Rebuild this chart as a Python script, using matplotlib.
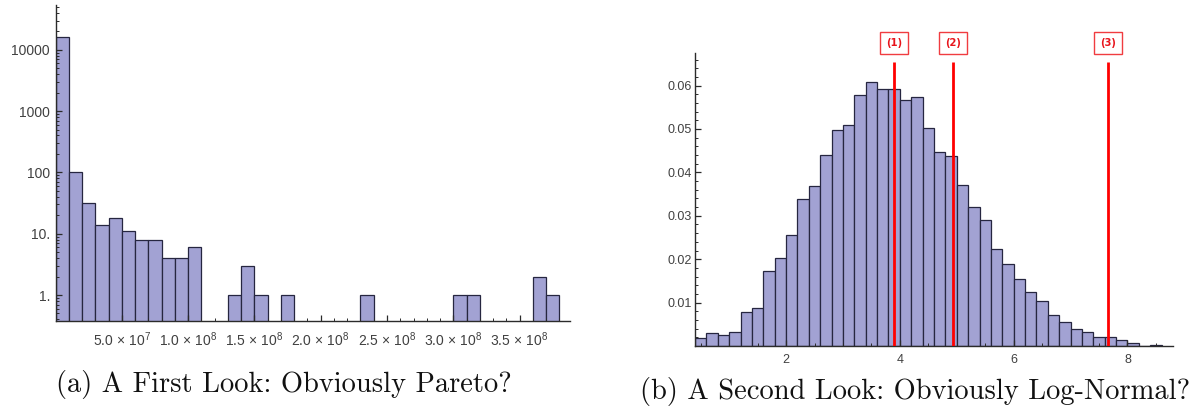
import matplotlib
matplotlib.use("Agg")
import matplotlib.pyplot as plt
from matplotlib.ticker import FixedLocator, MultipleLocator, LogLocator, NullFormatter, FixedFormatter

plt.rcParams['mathtext.fontset'] = 'custom'
plt.rcParams['mathtext.rm'] = 'Liberation Sans'
plt.rcParams['mathtext.it'] = 'Liberation Sans:italic'
plt.rcParams['font.family'] = ['Liberation Sans', 'DejaVu Sans']

# ---------------- data ----------------
# (a) counts per bin of width 1e7, starting at 0
pareto_bin_width = 1e7
pareto_counts = [16400, 100, 32, 14, 18, 11, 8, 8, 4, 4, 6, 0, 0, 1, 3, 1, 0, 1,
                 0, 0, 0, 0, 0, 1, 0, 0, 0, 0, 0, 0, 1, 1, 0, 0, 0, 0, 2, 1]
pareto_xticks = [5e7, 1e8, 1.5e8, 2e8, 2.5e8, 3e8, 3.5e8]
pareto_xticklabels = [r"$5.0\,\times\,10^{7}$", r"$1.0\,\times\,10^{8}$", r"$1.5\,\times\,10^{8}$",
                      r"$2.0\,\times\,10^{8}$", r"$2.5\,\times\,10^{8}$", r"$3.0\,\times\,10^{8}$",
                      r"$3.5\,\times\,10^{8}$"]
pareto_yticks = [1, 10, 100, 1000, 10000]
pareto_yticklabels = ["1.", "10.", "100", "1000", "10000"]

# (b) density per bin of width 0.2, starting at 0.4
lognorm_start = 0.4
lognorm_bin_width = 0.2
lognorm_density = [0.0019, 0.0029, 0.0026, 0.0032, 0.0078, 0.0088, 0.0173, 0.0203,
                   0.0255, 0.0339, 0.0369, 0.0440, 0.0498, 0.0508, 0.0579, 0.0609,
                   0.0592, 0.0592, 0.0567, 0.0574, 0.0502, 0.0446, 0.0438, 0.0372,
                   0.0320, 0.0290, 0.0223, 0.0190, 0.0154, 0.0124, 0.0104, 0.0072,
                   0.0056, 0.0040, 0.0033, 0.0021, 0.0020, 0.0014, 0.0008, 0.0, 0.0003]
lognorm_xticks = [2, 4, 6, 8]
lognorm_yticks = [0.01, 0.02, 0.03, 0.04, 0.05, 0.06]
lognorm_yticklabels = ["0.01", "0.02", "0.03", "0.04", "0.05", "0.06"]
marker_x = [3.90, 4.93, 7.66]
marker_labels = ["(1)", "(2)", "(3)"]

caption_a = "(a) A First Look: Obviously Pareto?"
caption_b = "(b) A Second Look: Obviously Log-Normal?"

# ---------------- style ----------------
W, H = 1203, 417
bar_face = '#a2a2d3'
bar_edge = '#262640'
axis_col = '#2b2b2b'
label_col = '#404040'

fig = plt.figure(figsize=(W / 100, H / 100), dpi=100)


def px_axes(x0, x1, ytop, ybot):
    return fig.add_axes([x0 / W, (H - ybot) / H, (x1 - x0) / W, (ybot - ytop) / H])


def style_axes(ax):
    for s in ['top', 'right']:
        ax.spines[s].set_visible(False)
    for s in ['left', 'bottom']:
        ax.spines[s].set_color(axis_col)
        ax.spines[s].set_linewidth(1.0)
        ax.spines[s].set_zorder(3)
    ax.set_facecolor('none')
    ax.tick_params(which='both', direction='in', color=axis_col, labelcolor=label_col)
    ax.tick_params(which='major', length=4.5, width=0.9)
    ax.tick_params(which='minor', length=2.5, width=0.7)


# ---------------- (a) ----------------
axa = px_axes(55.5, 570, 5, 321)
xs = [i * pareto_bin_width for i, c in enumerate(pareto_counts) if c > 0]
hs = [c for c in pareto_counts if c > 0]
axa.bar(xs, hs, width=pareto_bin_width, align='edge', color=bar_face,
        edgecolor=bar_edge, linewidth=0.9, zorder=1)
axa.set_yscale('log', nonpositive='clip')
axa.set_xlim(0, 3.88e8)
axa.set_ylim(0.377, 53700)
style_axes(axa)
axa.xaxis.set_major_locator(FixedLocator(pareto_xticks))
axa.xaxis.set_major_formatter(FixedFormatter(pareto_xticklabels))
axa.xaxis.set_minor_locator(MultipleLocator(1e7))
axa.yaxis.set_major_locator(FixedLocator(pareto_yticks))
axa.yaxis.set_major_formatter(FixedFormatter(pareto_yticklabels))
axa.yaxis.set_minor_locator(LogLocator(base=10, subs=[2, 3, 4, 5, 6, 7, 8, 9]))
axa.yaxis.set_minor_formatter(NullFormatter())
axa.tick_params(axis='x', which='major', labelsize=10, pad=7)
axa.tick_params(axis='y', which='major', labelsize=10, pad=4)

# ---------------- (b) ----------------
axb = px_axes(695, 1173, 53, 346)
bx = [lognorm_start + i * lognorm_bin_width for i in range(len(lognorm_density))]
axb.bar(bx, lognorm_density, width=lognorm_bin_width, align='edge', color=bar_face,
        edgecolor=bar_edge, linewidth=0.9, zorder=1)
axb.set_xlim(0.4, 8.80)
axb.set_ylim(0, 0.0675)
style_axes(axb)
axb.xaxis.set_major_locator(FixedLocator(lognorm_xticks))
axb.xaxis.set_minor_locator(MultipleLocator(0.5))
axb.yaxis.set_major_locator(FixedLocator(lognorm_yticks))
axb.yaxis.set_major_formatter(FixedFormatter(lognorm_yticklabels))
axb.yaxis.set_minor_locator(MultipleLocator(0.002))
axb.tick_params(axis='x', which='major', labelsize=9, pad=6)
axb.tick_params(axis='y', which='major', labelsize=9, pad=2.5)

for x, lab in zip(marker_x, marker_labels):
    axb.vlines(x, 0, 0.0654, color='#ff0000', linewidth=2.0, zorder=4)
    axb.text(x, 0.0698, lab, ha='center', va='center', color='#e8141b',
             fontsize=7.2, fontweight='bold', family='DejaVu Sans', clip_on=False,
             bbox=dict(boxstyle='square,pad=0.6', facecolor='white',
                       edgecolor='#f03c40', linewidth=1.0))

# ---------------- captions ----------------
fig.text(56 / W, (H - 392) / H, caption_a, family='cmr10', fontsize=20.5,
         ha='left', va='baseline', color='#111111')
fig.text(640 / W, (H - 399) / H, caption_b, family='cmr10', fontsize=20.5,
         ha='left', va='baseline', color='#111111')

fig.savefig('out.png', dpi=100)
